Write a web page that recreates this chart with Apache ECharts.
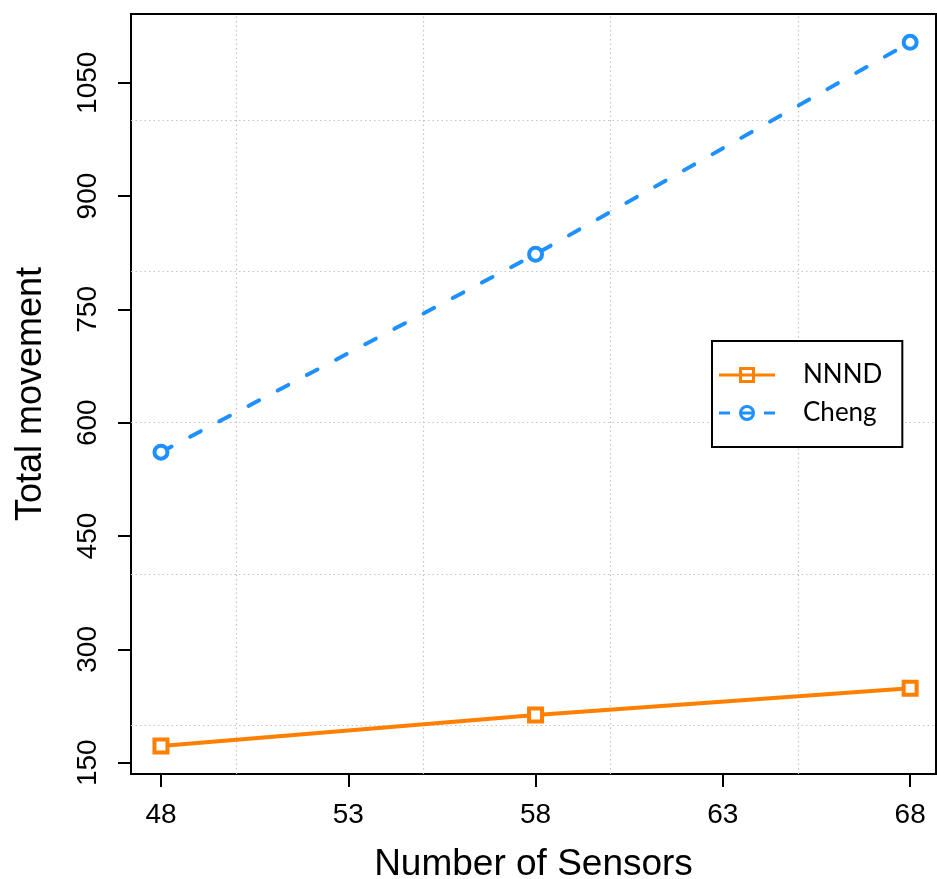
<!DOCTYPE html>
<html><head><meta charset="utf-8">
<script src="https://cdn.jsdelivr.net/npm/echarts@6/dist/echarts.min.js"></script>
<style>html,body{margin:0;padding:0;background:#fff}#c{width:937px;height:879px}</style>
</head><body><div id="c"></div>
<script>
const sensors = [48, 58, 68];
const nnnd = [172, 213, 248.5];
const cheng = [561, 823, 1103.5];
const xTicks = [48, 53, 58, 63, 68];
const yTicks = [150, 300, 450, 600, 750, 900, 1050];
const xGrid = [50, 55, 60, 65];
const yGrid = [200, 400, 600, 800, 1000];
const seriesNames = ['NNND', 'Cheng'];

const ORANGE = '#FF7F00', BLUE = '#1E90FF';
// legend icons: line + marker (outline), drawn as filled path
const iconNNND = 'path://M0 6.5L20 6.5L20 9.5L0 9.5Z M20 0L36 0L36 16L20 16Z M23 3L23 13L33 13L33 3Z M23 6.5L33 6.5L33 9.5L23 9.5Z M36 6.5L56 6.5L56 9.5L36 9.5Z';
const iconCheng = 'path://M0 6.5L11 6.5L11 9.5L0 9.5Z M20 8A8 8 0 1 1 36 8A8 8 0 1 1 20 8Z M23 8A5 5 0 1 0 33 8A5 5 0 1 0 23 8Z M23 6.5L33 6.5L33 9.5L23 9.5Z M45 6.5L56 6.5L56 9.5L45 9.5Z';

const chart = echarts.init(document.getElementById('c'), null, {renderer: 'canvas'});
const gridLineStyle = {color: '#c4c4c4', width: 1.2, type: [1.5, 3]};
chart.setOption({
  animation: false,
  grid: {left: 131, top: 14, right: 1, bottom: 105, outerBoundsMode: 'none', containLabel: false,
    show: true, borderColor: '#000', borderWidth: 2, backgroundColor: 'transparent'},
  xAxis: {
    type: 'value', min: 47.2, max: 68.69,
    name: 'Number of Sensors', nameLocation: 'middle', nameGap: 72,
    nameTextStyle: {fontSize: 37, fontFamily: 'Liberation Sans', color: '#000'},
    axisLine: {show: false},
    axisTick: {show: true, length: 13, lineStyle: {color: '#000', width: 2}, customValues: xTicks},
    axisLabel: {fontSize: 28, fontFamily: 'Liberation Sans', color: '#000', margin: 27, customValues: xTicks},
    splitLine: {show: false}
  },
  yAxis: {
    type: 'value', min: 135, max: 1141,
    name: 'Total movement', nameLocation: 'middle', nameGap: 82,
    nameTextStyle: {fontSize: 36, fontFamily: 'Liberation Sans', color: '#000'},
    axisLine: {show: false},
    axisTick: {show: true, length: 13, lineStyle: {color: '#000', width: 2}, customValues: yTicks},
    axisLabel: {fontSize: 28, fontFamily: 'Liberation Sans', color: '#000', margin: 29, rotate: 90,
      formatter: v => String(v), customValues: yTicks},
    splitLine: {show: false}
  },
  legend: {
    orient: 'vertical', left: 712, top: 341,
    data: [
      {name: seriesNames[0], icon: iconNNND, itemStyle: {color: ORANGE, borderWidth: 0}},
      {name: seriesNames[1], icon: iconCheng, itemStyle: {color: BLUE, borderWidth: 0}}
    ],
    backgroundColor: '#fff',
    borderColor: '#000', borderWidth: 2, borderRadius: 0,
    padding: [21, 20, 21, 7],
    itemWidth: 56, itemHeight: 16, itemGap: 12,
    textStyle: {fontSize: 26, fontFamily: 'Lato', color: '#000', padding: [0, 0, 0, 23], lineHeight: 26}
  },
  series: [
    {
      name: seriesNames[0], type: 'line', data: sensors.map((x, i) => [x, nnnd[i]]),
      symbol: 'rect', symbolSize: 13, showAllSymbol: true,
      lineStyle: {color: ORANGE, width: 4},
      itemStyle: {color: '#fff', borderColor: ORANGE, borderWidth: 4},
      z: 3,
      markLine: {
        silent: true, symbol: 'none', label: {show: false},
        lineStyle: gridLineStyle, z: 1,
        data: xGrid.map(v => ({xAxis: v})).concat(yGrid.map(v => ({yAxis: v})))
      }
    },
    {
      name: seriesNames[1], type: 'line', data: sensors.map((x, i) => [x, cheng[i]]),
      symbol: 'circle', symbolSize: 13,
      lineStyle: {color: BLUE, width: 4, type: [12, 21], cap: 'round'},
      itemStyle: {color: '#fff', borderColor: BLUE, borderWidth: 4},
      z: 3
    }
  ]
});
</script></body></html>
